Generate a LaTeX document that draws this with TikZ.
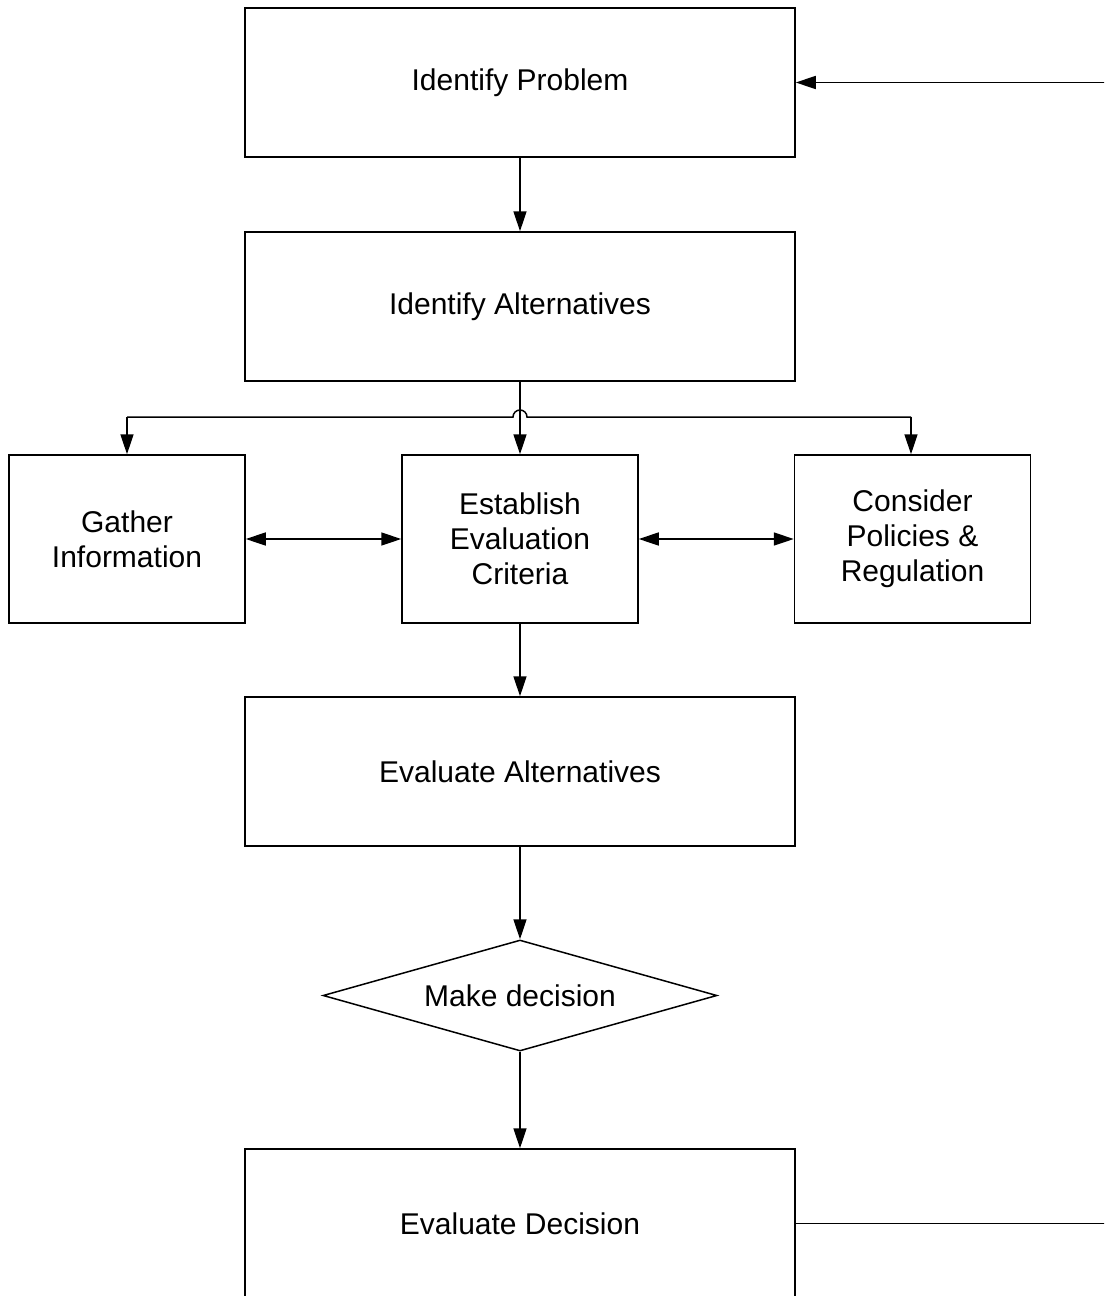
\documentclass[tikz,border=0pt]{standalone}
\usepackage{fontspec}
\setmainfont{Liberation Sans}
\usetikzlibrary{arrows.meta,shapes.geometric}
\begin{document}
\begin{tikzpicture}[x=1pt,y=-1pt,
  txt/.style={font=\fontsize{30}{35}\selectfont, align=center},
  box/.style={draw, line width=1.5pt, inner sep=0pt, txt},
  wide/.style={box, minimum width=550pt, minimum height=149pt},
  side/.style={box, minimum width=236pt, minimum height=168pt},
  choice/.style={diamond, draw, line width=1.5pt, inner sep=0pt, txt,
    minimum width=394pt, minimum height=111pt, aspect=3.55},
  tip/.tip={Triangle[length=20pt,width=13pt]},
  plain/.style={line width=1.5pt},
  flow/.style={plain, -tip},
  both/.style={plain, tip-tip}]

\useasboundingbox (0,0) rectangle (1104,1296);
\clip (0,0) rectangle (1104,1296);

% process boxes
\node[wide] (prob) at (520,82.5)  {Identify Problem};
\node[wide] (alt)  at (520,306.5) {Identify Alternatives};
\node[side] (gat)  at (127,539)   {Gather\\Information};
\node[side] (est)  at (520,539)   {Establish\\Evaluation\\Criteria};
\node[side] (con)  at (912.5,539) {Consider\\Policies \&\\Regulation};
\node[wide] (eva)  at (520,771.5) {Evaluate Alternatives};
\node[choice] (dec) at (520,995.5) {Make decision};
\node[wide] (edc)  at (520,1223.5) {Evaluate Decision};

% branch line with a hop over the central connector
\coordinate (bl) at (127,417);
\coordinate (br) at (911,417);
\draw[plain] (bl) -- (513,417) arc[start angle=180, end angle=360, radius=7] -- (br);
\draw[flow] (bl) -- (bl |- gat.north);
\draw[flow] (br) -- (br |- con.north);

% main flow
\draw[flow] (prob) -- (alt);
\draw[flow] (alt) -- (est);
\draw[both] (gat) -- (est);
\draw[both] (est) -- (con);
\draw[flow] (est) -- (eva);
\draw[flow] (eva) -- (dec);
\draw[flow] (dec) -- (edc);

% feedback loop leaving and re-entering at the right edge
\coordinate (fbin)  at (1110,82.5);
\coordinate (fbout) at (1110,1223.5);
\draw[flow] (fbin) -- (prob.east);
\draw[plain] (edc.east) -- (fbout);
\end{tikzpicture}
\end{document}
